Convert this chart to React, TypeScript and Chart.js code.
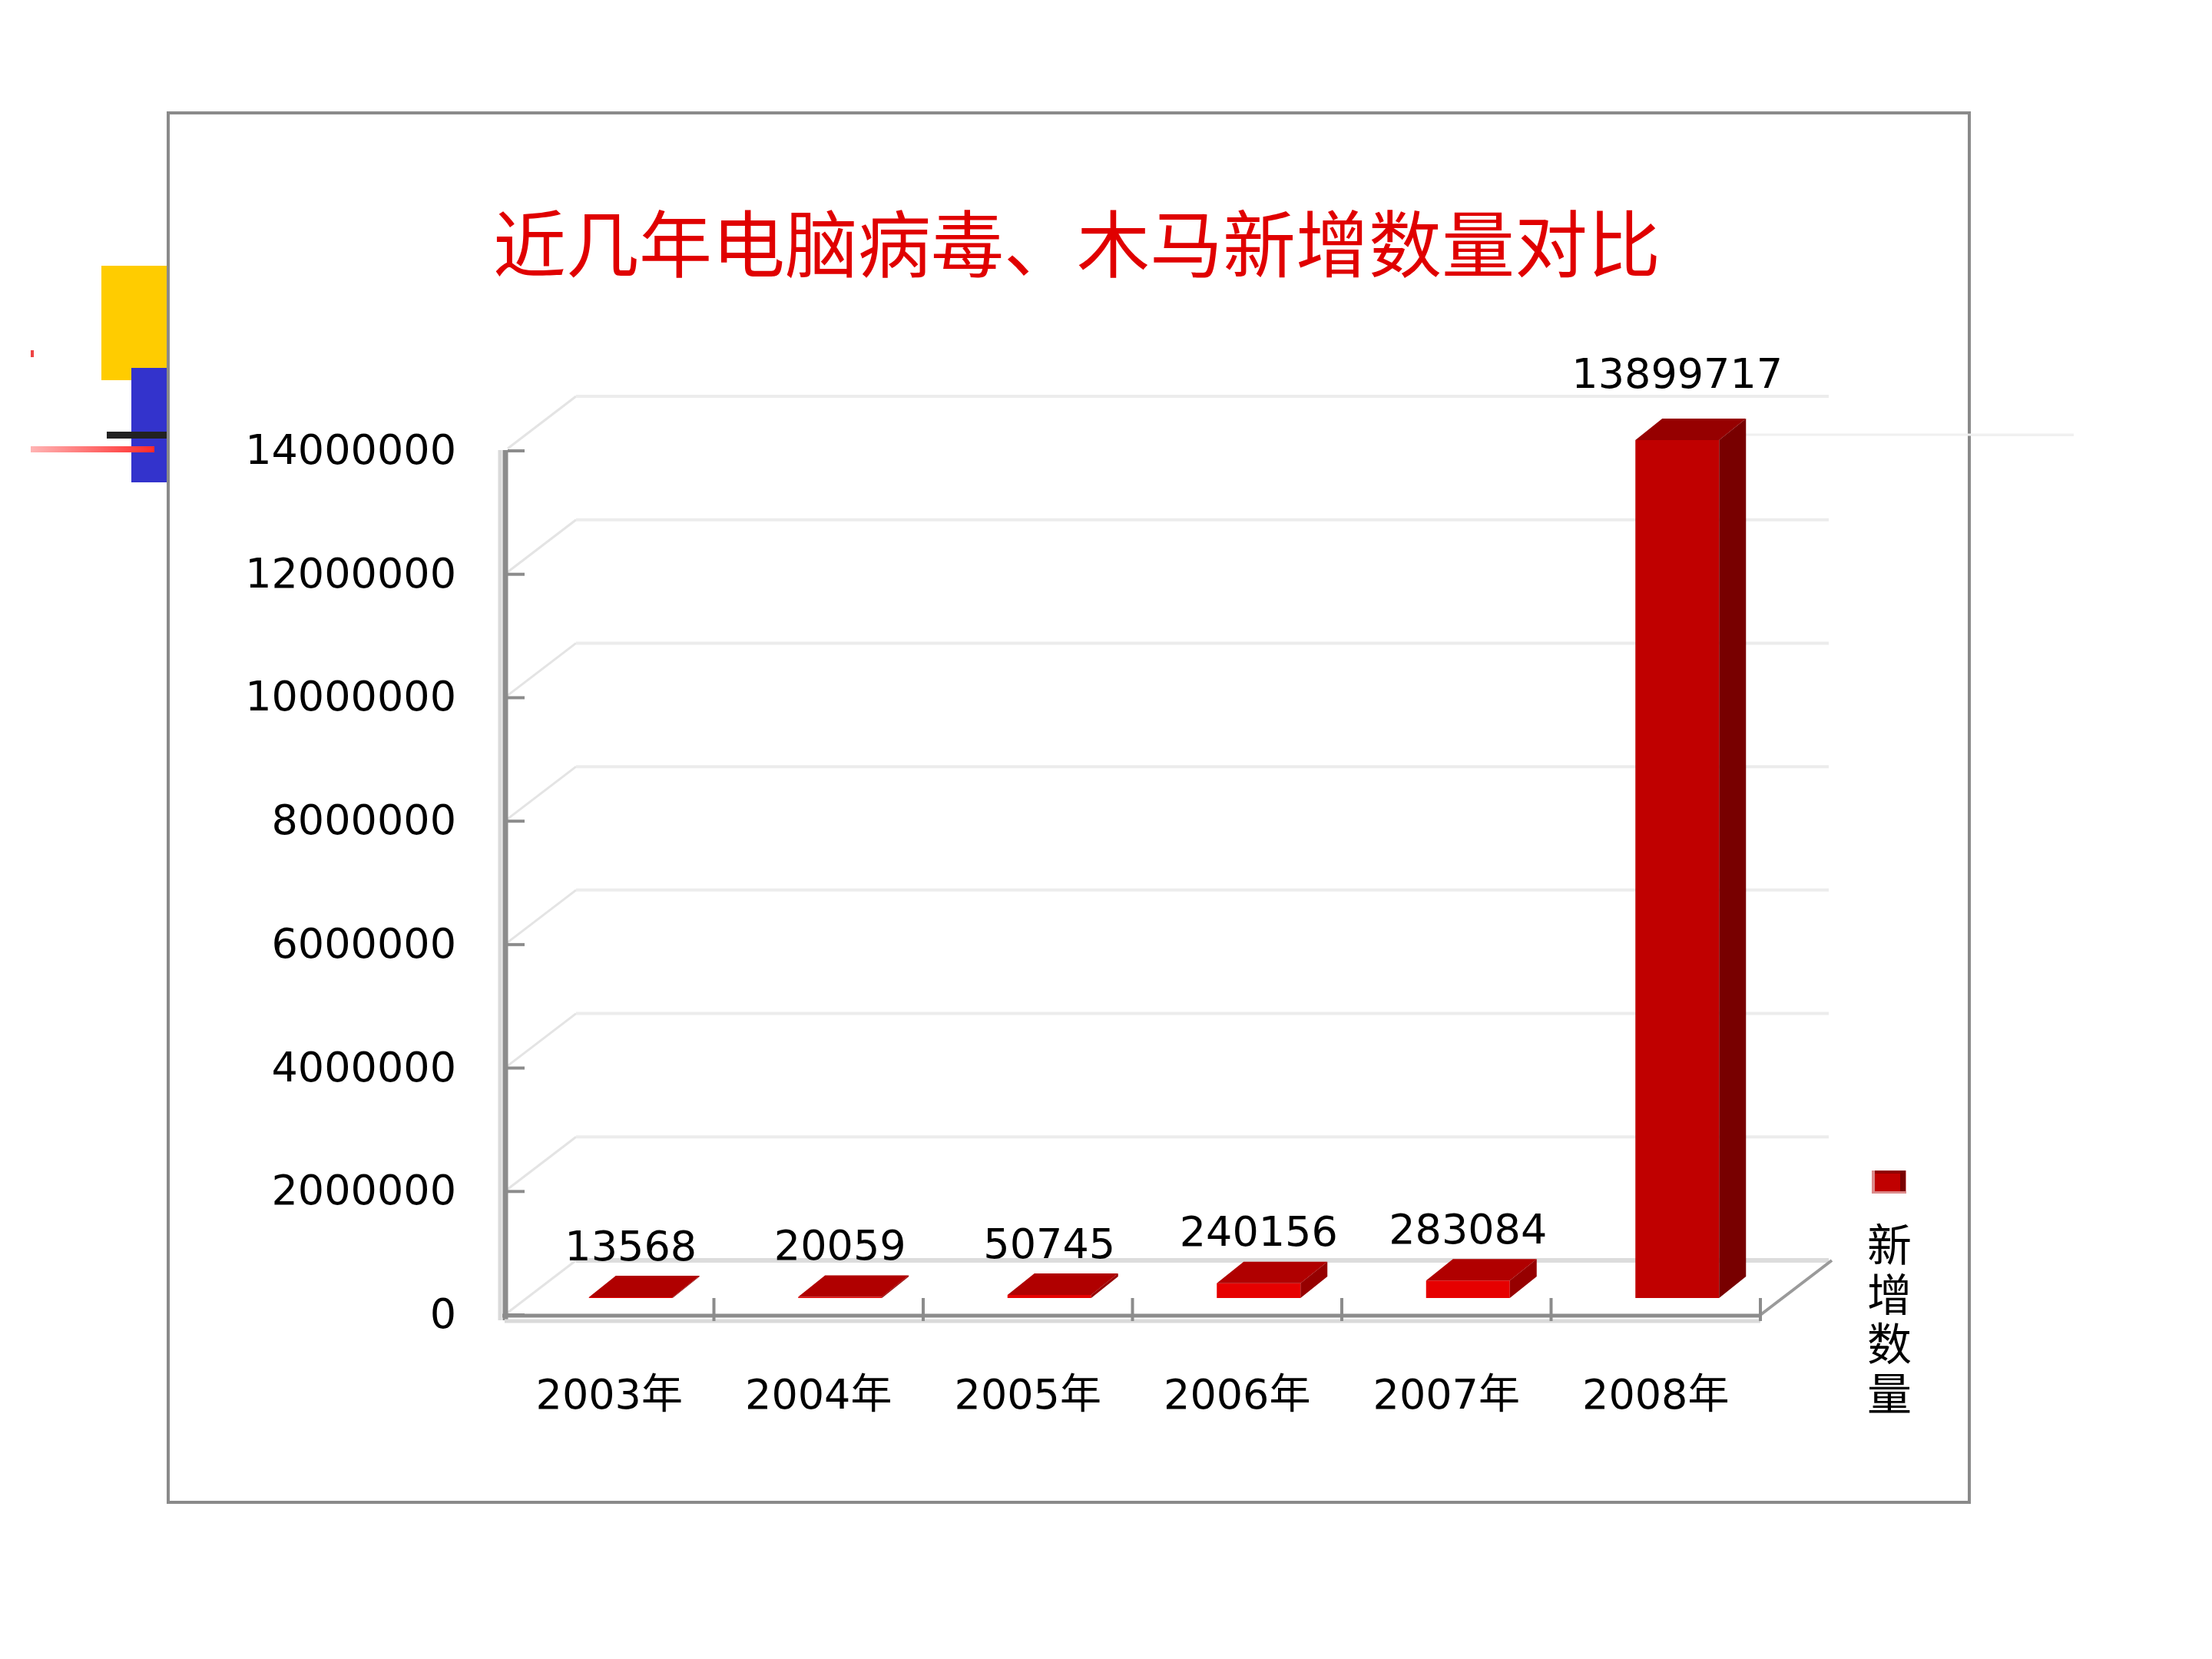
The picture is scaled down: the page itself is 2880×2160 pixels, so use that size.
import React, { useEffect, useRef } from 'react';
import { Chart, registerables } from 'chart.js';

Chart.register(...registerables);

// ---------- data ----------
const chartTitle = '近几年电脑病毒、木马新增数量对比';
const seriesName = '新增数量';
const categories = ['2003年', '2004年', '2005年', '2006年', '2007年', '2008年'];
const newCounts = [13568, 20059, 50745, 240156, 283084, 13899717];
const yMin = 0;
const yMax = 14000000;
const yStep = 2000000;

// ---------- styling / geometry ----------
const CW = 2880;
const CH = 2160;
const WALL_DX = 93;
const WALL_DY = -74;
const PLANE_DX = 28;
const PLANE_DY = -25;
const BAR_DX = 35;
const BAR_DY = -28;
const NUM_FONT = "'DejaVu Sans', 'Noto Sans CJK SC', sans-serif";
const CJK_FONT = "'Noto Sans CJK SC', sans-serif";

const isTall = (i: number) => newCounts[i] > yMax / 2;
const frontColor = (i: number) => (isTall(i) ? '#C00000' : '#E60000');
const topColor = (i: number) => (isTall(i) ? '#960000' : '#B00000');
const sideColor = (i: number) => (isTall(i) ? '#780000' : '#960000');

function line(ctx: CanvasRenderingContext2D, x1: number, y1: number, x2: number, y2: number, color: string, w: number) {
  ctx.beginPath();
  ctx.strokeStyle = color;
  ctx.lineWidth = w;
  ctx.moveTo(x1, y1);
  ctx.lineTo(x2, y2);
  ctx.stroke();
}

const threeD = {
  id: 'threeD',
  beforeDraw(chart: any) {
    const ctx = chart.ctx as CanvasRenderingContext2D;
    ctx.save();
    ctx.fillStyle = '#ffffff';
    ctx.fillRect(219, 147, 2345, 1809);
    ctx.strokeStyle = '#8a8a8a';
    ctx.lineWidth = 4;
    ctx.strokeRect(219, 147, 2345, 1809);
    line(ctx, 2240, 566, 2700, 566, '#f0f0f0', 3);
    ctx.restore();
  },
  beforeDatasetsDraw(chart: any) {
    const ctx = chart.ctx as CanvasRenderingContext2D;
    const xs = chart.scales.x;
    const ys = chart.scales.y;
    const { left, right, top, bottom } = chart.chartArea;
    ctx.save();
    // back wall + side wall gridlines
    ys.ticks.forEach((t: any) => {
      const py = ys.getPixelForValue(t.value);
      const isZero = t.value === 0;
      line(ctx, left + 4, py - 6, left + WALL_DX, py + WALL_DY, '#e4e4e4', 3);
      line(ctx, left + WALL_DX, py + WALL_DY, right + WALL_DX - 4, py + WALL_DY, isZero ? '#dcdcdc' : '#ececec', isZero ? 6 : 4);
    });
    // floor right edge
    line(ctx, right, bottom - 3, right + WALL_DX, bottom + WALL_DY, '#9a9a9a', 4);
    // y axis
    line(ctx, left - 6, top - 4, left - 6, bottom + 4, '#dadada', 5);
    line(ctx, left + 1, top - 4, left + 1, bottom + 4, '#8c8c8c', 7);
    ys.ticks.forEach((t: any) => {
      const py = ys.getPixelForValue(t.value);
      line(ctx, left + 4, py - 3, left + 26, py - 3, '#8c8c8c', 4);
    });
    // x axis (front floor edge)
    line(ctx, left, bottom + 5, right, bottom + 5, '#dadada', 5);
    line(ctx, left - 3, bottom - 2, right, bottom - 2, '#8c8c8c', 5);
    const n = categories.length;
    const cw = (right - left) / n;
    for (let i = 1; i <= n; i++) {
      const bx = xs.getPixelForValue(i - 1) + cw / 2;
      line(ctx, bx, bottom - 25, bx, bottom + 5, '#8c8c8c', 4);
    }
    ctx.restore();
    // move bars into their depth plane
    ctx.save();
    ctx.translate(PLANE_DX, PLANE_DY);
  },
  afterDatasetsDraw(chart: any) {
    const ctx = chart.ctx as CanvasRenderingContext2D;
    const meta = chart.getDatasetMeta(0);
    meta.data.forEach((bar: any, i: number) => {
      const { x, y, base, width } = bar.getProps(['x', 'y', 'base', 'width'], true);
      const l = x - width / 2;
      const r = x + width / 2;
      ctx.beginPath();
      ctx.moveTo(l, y);
      ctx.lineTo(l + BAR_DX, y + BAR_DY);
      ctx.lineTo(r + BAR_DX, y + BAR_DY);
      ctx.lineTo(r, y);
      ctx.closePath();
      ctx.fillStyle = topColor(i);
      ctx.fill();
      ctx.beginPath();
      ctx.moveTo(r, y);
      ctx.lineTo(r + BAR_DX, y + BAR_DY);
      ctx.lineTo(r + BAR_DX, base + BAR_DY);
      ctx.lineTo(r, base);
      ctx.closePath();
      ctx.fillStyle = sideColor(i);
      ctx.fill();
    });
    ctx.restore();
    // data labels
    ctx.save();
    ctx.font = `54px ${NUM_FONT}`;
    ctx.fillStyle = '#000000';
    ctx.textAlign = 'center';
    ctx.textBaseline = 'middle';
    meta.data.forEach((bar: any, i: number) => {
      const { x, y, base } = bar.getProps(['x', 'y', 'base'], true);
      const lift = 62 + 0.018 * (base - y);
      ctx.fillText(String(newCounts[i]), x + PLANE_DX, y + PLANE_DY - lift);
    });
    ctx.restore();
  },
  afterDraw(chart: any) {
    const ctx = chart.ctx as CanvasRenderingContext2D;
    ctx.save();
    // legend marker
    ctx.fillStyle = '#dc8a8a';
    ctx.fillRect(2437, 1524, 45, 30);
    ctx.fillStyle = '#C00000';
    ctx.fillRect(2441, 1528, 33, 23);
    ctx.fillStyle = '#7a0000';
    ctx.fillRect(2474, 1524, 7, 27);
    ctx.fillStyle = '#900000';
    ctx.fillRect(2441, 1524, 33, 4);
    // vertical legend text
    ctx.font = `58px ${CJK_FONT}`;
    ctx.fillStyle = '#000000';
    ctx.textAlign = 'center';
    ctx.textBaseline = 'middle';
    const chars = Array.from(seriesName);
    chars.forEach((c, i) => {
      ctx.fillText(c, 2460, 1620 + i * 64.7);
    });
    ctx.restore();
  },
};

export default function App() {
  const ref = useRef<HTMLCanvasElement | null>(null);
  useEffect(() => {
    if (!ref.current) return;
    const chart = new Chart(ref.current, {
      type: 'bar',
      data: {
        labels: categories,
        datasets: [
          {
            label: seriesName,
            data: newCounts,
            backgroundColor: (c: any) => frontColor(c.dataIndex),
            borderWidth: 0,
            barPercentage: 0.4,
            categoryPercentage: 1,
            clip: false as any,
            yAxisID: 'y',
          },
        ],
      },
      options: {
        animation: false,
        responsive: false,
        devicePixelRatio: 1,
        layout: { padding: { left: 308, right: 384, top: 255, bottom: 245 } },
        plugins: {
          legend: { display: false },
          tooltip: { enabled: false },
          title: {
            display: true,
            text: chartTitle,
            color: '#E00000',
            font: { family: CJK_FONT, size: 95, weight: 'normal', lineHeight: 1.2 },
            padding: { top: 6, bottom: 215 },
          },
        },
        scales: {
          x: {
            type: 'category',
            grid: { display: false, drawTicks: false },
            border: { display: false },
            ticks: { color: '#000000', font: { family: NUM_FONT, size: 54 }, padding: 73, maxRotation: 0, autoSkip: false },
            afterFit: (s: any) => {
              s.height = 200;
            },
          },
          y: {
            position: 'left',
            min: yMin,
            max: yMax,
            grid: { display: false, drawTicks: false },
            border: { display: false },
            ticks: {
              stepSize: yStep,
              color: '#000000',
              font: { family: NUM_FONT, size: 54 },
              padding: 63,
              callback: (v: any) => String(v),
            },
            afterFit: (s: any) => {
              s.width = 349;
            },
          },
          yRight: {
            position: 'right',
            min: 0,
            max: 1,
            grid: { display: false, drawTicks: false },
            border: { display: false },
            ticks: { display: false },
            afterFit: (s: any) => {
              s.width = 204;
            },
          },
        },
      },
      plugins: [threeD],
    });
    return () => chart.destroy();
  }, []);

  return (
    <div style={{ position: 'fixed', left: 0, top: 0, width: CW, height: CH, overflow: 'hidden', background: '#ffffff' }}>
      <div style={{ position: 'absolute', left: 132, top: 346, width: 85, height: 149, background: '#FFCC00' }} />
      <div style={{ position: 'absolute', left: 171, top: 479, width: 46, height: 149, background: '#3333CC' }} />
      <div style={{ position: 'absolute', left: 139, top: 562, width: 78, height: 9, background: '#222222' }} />
      <div style={{ position: 'absolute', left: 40, top: 581, width: 161, height: 8, background: 'linear-gradient(to right, #ffb4b4, #ff2a2a)' }} />
      <div style={{ position: 'absolute', left: 40, top: 456, width: 4, height: 9, background: '#ee4444' }} />
      <div style={{ position: 'absolute', left: 2566, top: 565, width: 134, height: 3, background: '#f2f2f2' }} />
      <canvas ref={ref} width={CW} height={CH} style={{ position: 'absolute', left: 0, top: 0, width: CW, height: CH }} />
    </div>
  );
}
